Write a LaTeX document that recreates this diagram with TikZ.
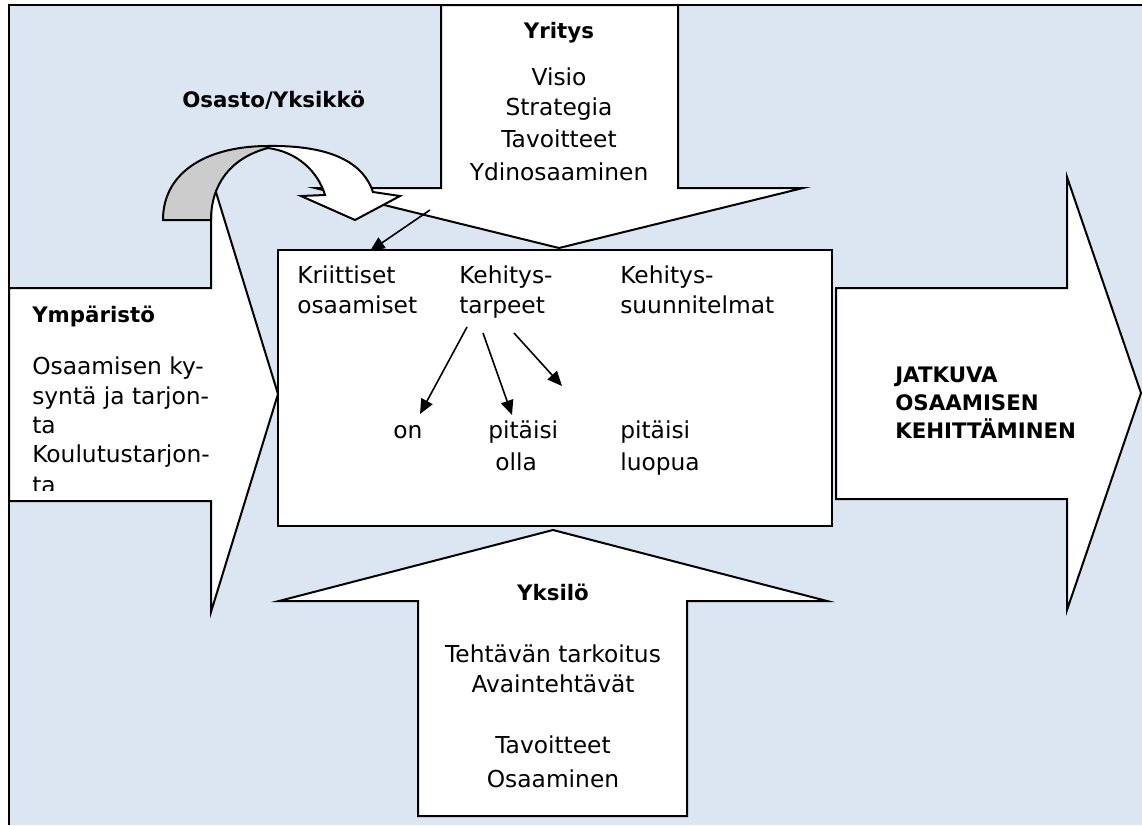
\documentclass[tikz,border=0pt]{standalone}
\usepackage{fontspec}
\setmainfont{DejaVu Sans}
\usetikzlibrary{arrows.meta}
\definecolor{bgblue}{RGB}{220,230,242}
\definecolor{bandgray}{RGB}{204,204,204}
\begin{document}
\begin{tikzpicture}[x=0.75pt,y=-0.75pt,
  blockarrow/.style={draw=black, fill=white, line width=1.5pt, line join=miter},
  txt/.style={inner sep=0pt, font=\fontsize{17.5}{21}\selectfont, anchor=base west},
  txtc/.style={txt, anchor=base},
  btxt/.style={inner sep=0pt, font=\fontsize{16}{20}\selectfont\bfseries, anchor=base west},
  btxtc/.style={btxt, anchor=base},
  conn/.style={-{Triangle[length=11pt,width=9.5pt]}, line width=1.2pt}]
\useasboundingbox (0,0) rectangle (1142,825);
% background and frame
\fill[bgblue] (9,5) rectangle (1142,825);
% Ympäristö arrow (right)
\draw[blockarrow] (9,288) -- (211,288) -- (211,176) -- (278,394) -- (211,612) -- (211,501) -- (9,501) -- cycle;
% Yritys arrow (down)
\draw[blockarrow] (441,5) -- (441,188) -- (315,188) -- (559,248) -- (803,188) -- (678,188) -- (678,5) -- cycle;
% frame lines
\draw[line width=1.5pt] (1142,5) -- (9,5) -- (9,825);
% curved arrow Osasto/Yksikkö
\draw[blockarrow, fill=bandgray] (163,220) .. controls (163,170) and (210,146) .. (268,146)
  -- (268,148) .. controls (230,158) and (211,185) .. (211,220) -- cycle;
\draw[blockarrow] (268,146) .. controls (335,145) and (364,165) .. (373,192)
  -- (400,196) -- (355,220) -- (301,196) -- (325,195)
  .. controls (318,172) and (298,152) .. (268,148) -- cycle;
% central box
\node[draw=black, fill=white, line width=1.5pt, inner sep=0pt, anchor=north west,
  minimum width=415.5pt, minimum height=207pt] (box) at (277,249) {};
% Yksilö arrow (up)
\draw[blockarrow] (418,816) -- (418,601) -- (279,601) -- (553,530) -- (827,601) -- (687,601) -- (687,816) -- cycle;
% JATKUVA arrow (right)
\draw[blockarrow] (836,288) -- (1067,288) -- (1067,177) -- (1141,393) -- (1067,610) -- (1067,499) -- (836,499) -- cycle;

% texts: Yritys
\node[btxtc] (yritys) at (559,38) {Yritys};
\node[txtc] (visio) at (559,85) {Visio};
\node[txtc] (strategia) at (559,115) {Strategia};
\node[txtc] (tavoitteet1) at (559,147) {Tavoitteet};
\node[txtc] (ydin) at (559,180) {Ydinosaaminen};
% Osasto
\node[btxt] (osasto) at (182,107) {Osasto/Yksikkö};
% Ympäristö
\node[btxt] (ymparisto) at (32,322) {Ympäristö};
\begin{scope}
\clip (9,288) rectangle (211,490);
\node[txt] (ym1) at (32,374) {Osaamisen ky-};
\node[txt] (ym2) at (32,404) {syntä ja tarjon-};
\node[txt] (ym3) at (32,433) {ta};
\node[txt] (ym4) at (32,462) {Koulutustarjon-};
\node[txt] (ym5) at (32,493) {ta};
\end{scope}
% central box texts
\node[txt] (krit1) at (297,283) {Kriittiset};
\node[txt] (krit2) at (297,313) {osaamiset};
\node[txt] (keh1) at (459,283) {Kehitys-};
\node[txt] (keh2) at (459,313) {tarpeet};
\node[txt] (kehs1) at (620,283) {Kehitys-};
\node[txt] (kehs2) at (620,313) {suunnitelmat};
\node[txt] (on) at (393,438) {on};
\node[txt] (pit1) at (488,438) {pitäisi};
\node[txt] (olla) at (495,470) {olla};
\node[txt] (pit2) at (620,438) {pitäisi};
\node[txt] (luopua) at (620,470) {luopua};
% JATKUVA
\node[btxt] (j1) at (895,382) {JATKUVA};
\node[btxt] (j2) at (895,410) {OSAAMISEN};
\node[btxt] (j3) at (895,438) {KEHITTÄMINEN};
% Yksilö
\node[btxtc] (yksilo) at (553,600) {Yksilö};
\node[txtc] (teht) at (553,662) {Tehtävän tarkoitus};
\node[txtc] (avain) at (553,692) {Avaintehtävät};
\node[txtc] (tavoitteet2) at (553,753) {Tavoitteet};
\node[txtc] (osaaminen) at (553,787) {Osaaminen};

% connectors
\coordinate (c0s) at (430,210);
\coordinate (c0e) at (370,251);
\coordinate (c1s) at (467,327);
\coordinate (c1e) at (420,414);
\coordinate (c2s) at (483,333);
\coordinate (c2e) at (512,415);
\coordinate (c3s) at (514,333);
\coordinate (c3e) at (562,386);
\draw[conn] (c0s) -- (c0e);
\draw[conn] (c1s) -- (c1e);
\draw[conn] (c2s) -- (c2e);
\draw[conn] (c3s) -- (c3e);
\end{tikzpicture}
\end{document}
